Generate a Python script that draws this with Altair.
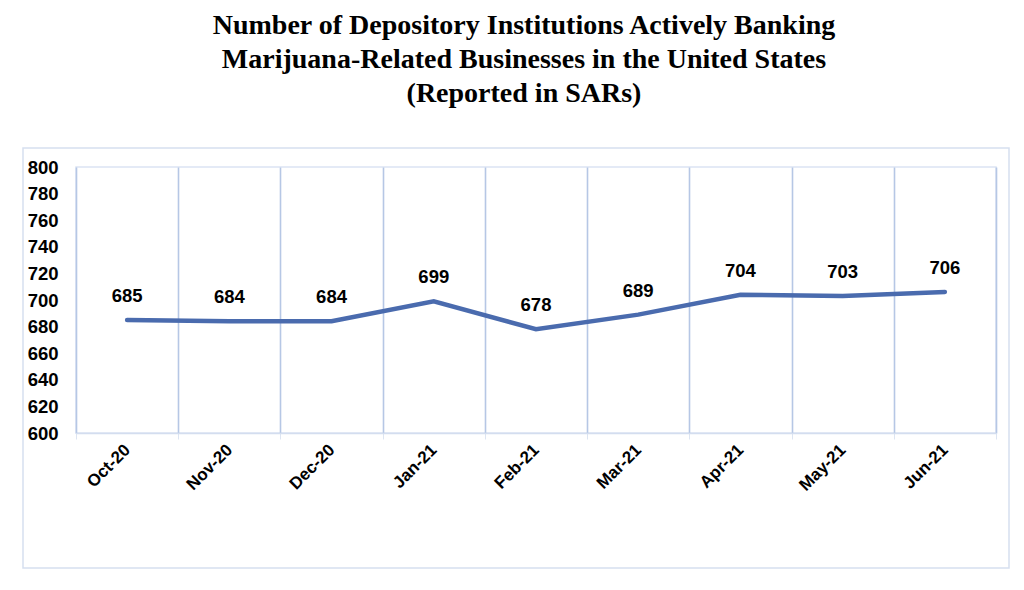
import altair as alt
import pandas as pd

months = ["Oct-20", "Nov-20", "Dec-20", "Jan-21", "Feb-21", "Mar-21", "Apr-21", "May-21", "Jun-21"]
counts = [685, 684, 684, 699, 678, 689, 704, 703, 706]
y_ticks = list(range(600, 801, 20))
title_lines = [
    "Number of Depository Institutions Actively Banking",
    "Marijuana-Related Businesses in the United States",
    "(Reported in SARs)",
]

df = pd.DataFrame({"month": months, "count": counts})

FONT = "Liberation Sans, Arial, sans-serif"

x = alt.X(
    "month:N",
    sort=months,
    scale=alt.Scale(paddingInner=0, paddingOuter=0),
    axis=alt.Axis(
        title=None,
        labelAngle=-45,
        labelAlign="right",
        labelBaseline="middle",
        labelFont=FONT,
        labelFontSize=17,
        labelFontWeight="bold",
        labelColor="#000000",
        labelPadding=8,
        tickBand="extent",
        grid=True,
        gridColor="#b6c7e5",
        gridWidth=1.6,
        ticks=True,
        tickColor="#dde5f2",
        tickSize=6,
        domain=True,
        domainColor="#d3ddef",
        domainWidth=1.5,
    ),
)
y = alt.Y(
    "count:Q",
    scale=alt.Scale(domain=[600, 800], nice=False, zero=False),
    axis=alt.Axis(
        title=None,
        values=y_ticks,
        labelFont=FONT,
        labelFontSize=18.5,
        labelFontWeight="bold",
        labelColor="#000000",
        labelPadding=18,
        grid=False,
        ticks=False,
        domain=False,
    ),
)

base = alt.Chart(df)

line = base.mark_line(color="#4a6bae", strokeWidth=4.5, strokeCap="round").encode(x=x, y=y)
labels = base.mark_text(
    dy=-24, font=FONT, fontSize=18.5, fontWeight="bold", color="#000000"
).encode(x=x, y=y, text="count:Q")

frame = alt.Chart(alt.Data(values=[{}])).mark_rect(
    fill=None, stroke="#d6e0f0", strokeWidth=1.5, clip=False
).encode(
    x=alt.value(-53), x2=alt.value(933), y=alt.value(-19), y2=alt.value(401)
)

chart = alt.layer(frame, line, labels).properties(
    width=920,
    height=266,
    padding={"left": 14, "top": 4, "right": 5, "bottom": 5},
    background="#ffffff",
    title=alt.TitleParams(
        text=title_lines,
        font="Liberation Serif, Times New Roman, serif",
        fontSize=28,
        fontWeight="bold",
        color="#000000",
        lineHeight=34,
        anchor="middle",
        offset=39,
        dx=-12,
    ),
).configure_view(stroke="#dbe4f3", strokeWidth=1.5)

chart.save("out.html", embed_options={"renderer": "svg", "actions": False})
